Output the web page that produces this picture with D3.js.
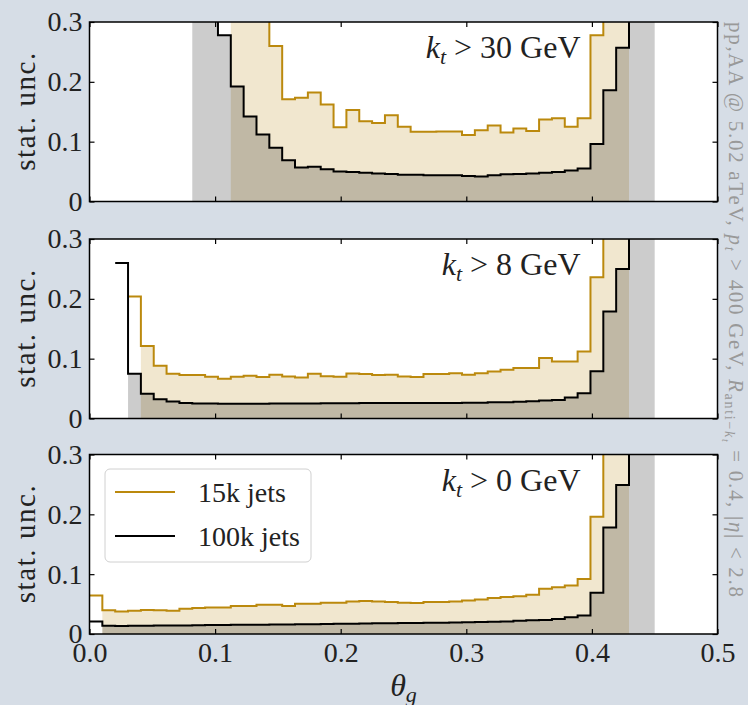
<!DOCTYPE html>
<html>
<head>
<meta charset="utf-8">
<script src="https://cdn.jsdelivr.net/npm/d3@7"></script>
<style>
  html, body { margin: 0; padding: 0; background: #d6dde6; }
  svg { display: block; }
  text { font-family: "Liberation Serif", "DejaVu Serif", serif; fill: #222; }
</style>
</head>
<body>
<div id="chart"></div>
<script>
const WIDTH = 748;
const HEIGHT = 705;

// theta_g binning: 44 bins over [0, 0.45]
const N_BINS = 44;
const THETA_MAX = 0.45;
const binEdges = d3.range(N_BINS + 1).map(i => (i * THETA_MAX) / N_BINS);

const X_TICKS = [0, 0.1, 0.2, 0.3, 0.4, 0.5];
const Y_TICKS = [0, 0.1, 0.2, 0.3];
const KT_CUTS = ['30', '8', '0'];
const SERIES_NAMES = ['15k jets', '100k jets'];

// values above 0.3 are off the plot (drawn as 0.5)
// k_t > 30 GeV
const jets15k_kt30 = {
  start: 10,
  values: [0.5, 0.5, 0.5, 0.5, 0.26, 0.171, 0.1735, 0.182, 0.162, 0.124, 0.153, 0.134,
    0.131, 0.144, 0.125, 0.1165, 0.1167, 0.117, 0.117, 0.111, 0.119, 0.127, 0.1155, 0.122,
    0.118, 0.137, 0.139, 0.125, 0.139, 0.278, 0.5, 0.5],
};
const jets100k_kt30 = {
  start: 7,
  values: [0.5, 0.5, 0.5, 0.278, 0.192, 0.142, 0.112, 0.09, 0.069, 0.057, 0.058, 0.054,
    0.05, 0.0495, 0.048, 0.047, 0.046, 0.0445, 0.0445, 0.044, 0.044, 0.044, 0.0428, 0.0417,
    0.044, 0.0456, 0.046, 0.047, 0.048, 0.0495, 0.052, 0.055, 0.096, 0.186, 0.257, 0.5, 0.5],
};

// k_t > 8 GeV
const jets15k_kt8 = {
  start: 3,
  values: [0.204, 0.121, 0.088, 0.0747, 0.0725, 0.0725, 0.0697, 0.0664, 0.0697, 0.0714,
    0.0692, 0.0731, 0.0703, 0.0686, 0.0747, 0.0708, 0.0697, 0.0753, 0.0742, 0.0728, 0.0731,
    0.0703, 0.0692, 0.0742, 0.0742, 0.0758, 0.0731, 0.0758, 0.0786, 0.0814, 0.0842, 0.0842,
    0.101, 0.0953, 0.0953, 0.112, 0.236, 0.5, 0.5],
};
const jets100k_kt8 = {
  start: 2,
  values: [0.26, 0.0747, 0.0414, 0.032, 0.0286, 0.026, 0.025, 0.025, 0.0245, 0.0245, 0.0245,
    0.0245, 0.025, 0.025, 0.025, 0.025, 0.0255, 0.0255, 0.0255, 0.026, 0.026, 0.026, 0.026,
    0.026, 0.026, 0.026, 0.026, 0.0265, 0.0265, 0.027, 0.027, 0.028, 0.029, 0.03, 0.031,
    0.035, 0.042, 0.079, 0.179, 0.25, 0.5, 0.5],
};

// k_t > 0 GeV
const jets15k_kt0 = {
  start: 0,
  values: [0.0645, 0.0395, 0.0378, 0.0389, 0.04, 0.0395, 0.039, 0.0422, 0.0433, 0.0444,
    0.0444, 0.0467, 0.0467, 0.049, 0.049, 0.0467, 0.0506, 0.0506, 0.0522, 0.0522, 0.0544,
    0.055, 0.0544, 0.0533, 0.0522, 0.0517, 0.0533, 0.0533, 0.0544, 0.056, 0.0578, 0.06,
    0.0617, 0.0633, 0.0656, 0.0756, 0.0783, 0.081, 0.092, 0.196, 0.5, 0.5],
};
const jets100k_kt0 = {
  start: 0,
  values: [0.0211, 0.0139, 0.0133, 0.0136, 0.0138, 0.014, 0.014, 0.0142, 0.0145, 0.015,
    0.015, 0.0153, 0.0155, 0.0156, 0.0158, 0.016, 0.0162, 0.0165, 0.0167, 0.017, 0.0172,
    0.0175, 0.018, 0.018, 0.0183, 0.0185, 0.019, 0.019, 0.0193, 0.0197, 0.02, 0.0205, 0.021,
    0.022, 0.023, 0.0235, 0.025, 0.028, 0.031, 0.069, 0.178, 0.249, 0.5, 0.5],
};

const panelData = [
  [jets15k_kt30, jets100k_kt30],
  [jets15k_kt8, jets100k_kt8],
  [jets15k_kt0, jets100k_kt0],
];

const GOLD = '#bb890d';
const SERIES_COLORS = [GOLD, '#000000'];

const margin = { left: 89.5, right: 30.5 };
const panelTops = [22, 239, 454.5];
const panelHeight = 179.5;
const plotWidth = WIDTH - margin.left - margin.right;

const x = d3.scaleLinear().domain([0, 0.5]).range([0, plotWidth]);
const y = d3.scaleLinear().domain([0, 0.3]).range([panelHeight, 0]);

const svg = d3
  .select('#chart')
  .append('svg')
  .attr('width', WIDTH)
  .attr('height', HEIGHT);

svg.append('rect').attr('width', WIDTH).attr('height', HEIGHT).attr('fill', '#d6dde6');

function stepPoints(series, skipFirst) {
  const pts = [];
  series.values.forEach((v, i) => {
    if (skipFirst && i === 0) return;
    const b = series.start + i;
    pts.push([binEdges[b], v], [binEdges[b + 1], v]);
  });
  return pts;
}

const area = d3
  .area()
  .x(d => x(d[0]))
  .y0(y(0))
  .y1(d => y(d[1]));

const line = d3
  .line()
  .x(d => x(d[0]))
  .y(d => y(d[1]));

panelData.forEach((seriesPair, p) => {
  const g = svg.append('g').attr('transform', `translate(${margin.left}, ${panelTops[p]})`);

  g.append('clipPath')
    .attr('id', `clip-${p}`)
    .append('rect')
    .attr('width', plotWidth)
    .attr('height', panelHeight);

  g.append('rect').attr('width', plotWidth).attr('height', panelHeight).attr('fill', '#fff');

  const plot = g.append('g').attr('clip-path', `url(#clip-${p})`);

  seriesPair.forEach((s, i) => {
    plot
      .append('path')
      .attr('d', area(stepPoints(s, true)))
      .attr('fill', SERIES_COLORS[i])
      .attr('fill-opacity', 0.2);
  });
  seriesPair.forEach((s, i) => {
    plot
      .append('path')
      .attr('d', line(stepPoints(s, false)))
      .attr('fill', 'none')
      .attr('stroke', SERIES_COLORS[i])
      .attr('stroke-width', 2);
  });

  // inward ticks on all four sides
  const isBottom = p === panelData.length - 1;
  const fontSize = 28;

  const left = g
    .append('g')
    .call(
      d3.axisLeft(y).tickValues(Y_TICKS).tickSize(-5).tickPadding(7)
        .tickFormat(d => (d === 0 ? '0' : d3.format('.1f')(d)))
    );
  left.selectAll('text').style('font-size', `${fontSize}px`).attr('fill', '#222');

  g.append('g')
    .attr('transform', `translate(${plotWidth}, 0)`)
    .call(d3.axisRight(y).tickValues(Y_TICKS).tickSize(-5).tickFormat(''));

  g.append('g').call(d3.axisTop(x).tickValues(X_TICKS).tickSize(-5).tickFormat(''));

  const bottom = g
    .append('g')
    .attr('transform', `translate(0, ${panelHeight})`)
    .call(
      d3.axisBottom(x).tickValues(X_TICKS).tickSize(-5).tickPadding(8)
        .tickFormat(isBottom ? d3.format('.1f') : '')
    );
  bottom.selectAll('text').style('font-size', `${fontSize}px`).attr('fill', '#222');

  g.selectAll('.domain').remove();
  g.selectAll('.tick line').attr('stroke', '#000').attr('stroke-width', 1.2);

  g.append('rect')
    .attr('width', plotWidth)
    .attr('height', panelHeight)
    .attr('fill', 'none')
    .attr('stroke', '#000')
    .attr('stroke-width', 1.5);

  // y label
  svg
    .append('text')
    .attr('transform', `translate(25, ${panelTops[p] + panelHeight / 2}) rotate(-90)`)
    .attr('text-anchor', 'middle')
    .attr('dominant-baseline', 'central')
    .attr('textLength', 118)
    .attr('lengthAdjust', 'spacing')
    .style('font-size', '29px')
    .text('stat. unc.');

  // k_t annotation
  const ann = g
    .append('text')
    .attr('x', 491)
    .attr('y', 36)
    .attr('text-anchor', 'end')
    .style('font-size', '32px');
  ann.append('tspan').attr('font-style', 'italic').text('k');
  ann.append('tspan').attr('font-style', 'italic').attr('font-size', '22px').attr('dy', 6).text('t');
  ann.append('tspan').attr('dy', -6).text(` > ${KT_CUTS[p]} GeV`);

  // legend in bottom panel
  if (isBottom) {
    const lg = svg.append('g').attr('transform', 'translate(105, 469)');
    lg.append('rect')
      .attr('width', 206)
      .attr('height', 93)
      .attr('rx', 5)
      .attr('fill', '#fff')
      .attr('fill-opacity', 0.8)
      .attr('stroke', '#d0d0d0')
      .attr('stroke-width', 1);
    SERIES_NAMES.forEach((name, i) => {
      const ly = 23 + i * 44;
      lg.append('line')
        .attr('x1', 10)
        .attr('x2', 70)
        .attr('y1', ly)
        .attr('y2', ly)
        .attr('stroke', SERIES_COLORS[i])
        .attr('stroke-width', 2.2);
      lg.append('text')
        .attr('x', 93)
        .attr('y', ly + 10)
        .style('font-size', '28px')
        .text(name);
    });
  }
});

// x label
const xl = svg
  .append('text')
  .attr('x', margin.left + plotWidth / 2)
  .attr('y', 696)
  .attr('text-anchor', 'middle')
  .style('font-size', '32px');
xl.append('tspan').attr('font-style', 'italic').text('θ');
xl.append('tspan').attr('font-style', 'italic').attr('font-size', '22px').attr('dy', 6).text('g');

// side note
const note = svg
  .append('text')
  .attr('transform', 'translate(729, 22) rotate(90)')
  .attr('textLength', 575)
  .attr('lengthAdjust', 'spacing')
  .style('font-size', '21px')
  .style('fill', '#999');
note.append('tspan').text('pp,AA @ 5.02 aTeV, ');
note.append('tspan').attr('font-style', 'italic').text('p');
note.append('tspan').attr('font-style', 'italic').attr('font-size', '14px').attr('dy', 4).text('t');
note.append('tspan').attr('dy', -4).text(' > 400 GeV, ');
note.append('tspan').attr('font-style', 'italic').text('R');
note.append('tspan').attr('font-size', '14px').attr('dy', 4).text('anti−');
note.append('tspan').attr('font-style', 'italic').attr('font-size', '14px').text('k');
note.append('tspan').attr('font-style', 'italic').attr('font-size', '10px').attr('dy', 3).text('t');
note.append('tspan').attr('dy', -7).text(' = 0.4, |');
note.append('tspan').attr('font-style', 'italic').text('η');
note.append('tspan').text('| < 2.8');
</script>
</body>
</html>
